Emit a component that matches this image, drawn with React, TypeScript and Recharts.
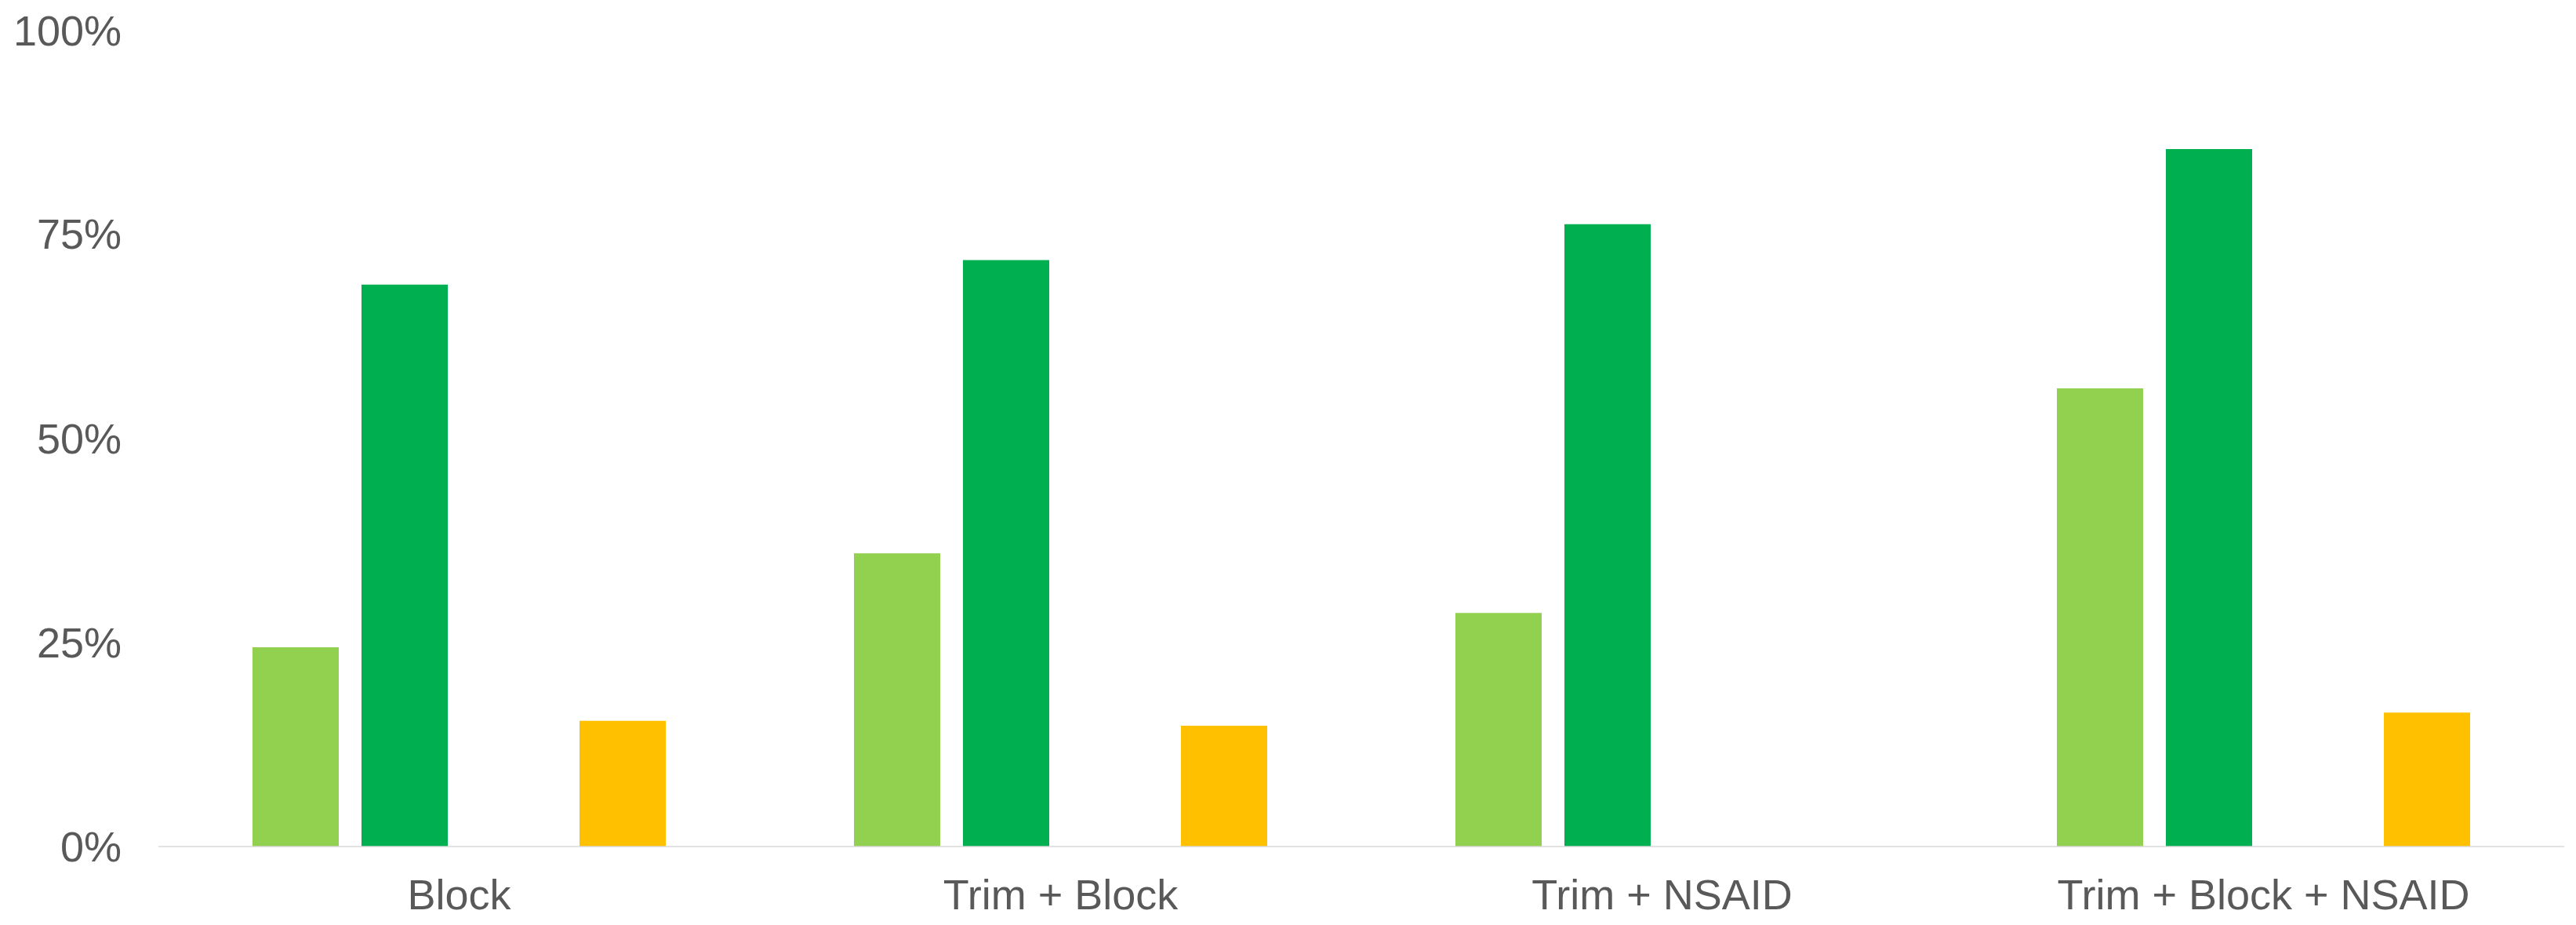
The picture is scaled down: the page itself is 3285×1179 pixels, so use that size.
import { BarChart, Bar, XAxis, YAxis } from "recharts";

const categories = ["Block", "Trim + Block", "Trim + NSAID", "Trim + Block + NSAID"];

// percent values per group, null where a group has no bar
const series1 = [24.4, 35.9, 28.6, 56.1];
const series2 = [68.8, 71.8, 76.2, 85.4];
const series3: (number | null)[] = [null, null, null, null];
const series4: (number | null)[] = [15.4, 14.8, null, 16.4];

const yTicks = [0, 25, 50, 75, 100];

const colors = ["#92D050", "#00B050", "#A5A5A5", "#FFC000"];

const data = categories.map((name, i) => ({
  name,
  s1: series1[i],
  s2: series2[i],
  s3: series3[i],
  s4: series4[i],
}));

const tickStyle = {
  fill: "#595959",
  fontSize: 54,
  fontFamily: "'Liberation Sans', Arial, sans-serif",
};

export default function App() {
  return (
    <BarChart
      width={3269}
      height={1163}
      data={data}
      margin={{ top: 30, right: 7, bottom: 0, left: 0 }}
      barCategoryGap={120}
      barGap={29}
    >
      <XAxis
        dataKey="name"
        height={92}
        tickLine={false}
        tickSize={0}
        tickMargin={42}
        axisLine={{ stroke: "#D9D9D9", strokeWidth: 1.5 }}
        tick={tickStyle}
      />
      <YAxis
        width={194}
        domain={[0, 100]}
        ticks={yTicks}
        tickFormatter={(v) => `${v}%`}
        axisLine={false}
        tickLine={false}
        tickSize={0}
        tickMargin={47}
        tick={tickStyle}
      />
      {["s1", "s2", "s3", "s4"].map((key, i) => (
        <Bar key={key} dataKey={key} fill={colors[i]} isAnimationActive={false} />
      ))}
    </BarChart>
  );
}
